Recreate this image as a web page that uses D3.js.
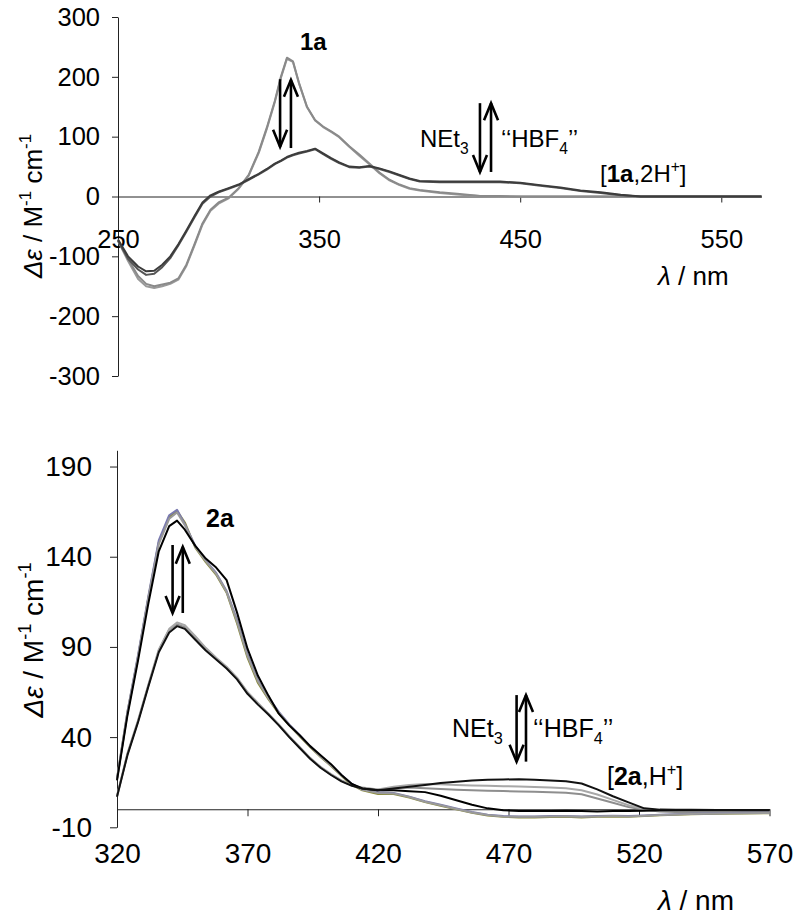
<!DOCTYPE html>
<html><head><meta charset="utf-8">
<script src="https://cdn.jsdelivr.net/npm/d3@7"></script>
<style>body{margin:0;background:#fff} text{font-family:"Liberation Sans",Arial,sans-serif;fill:#000}</style>
</head><body><svg id="c" width="800" height="920"></svg>
<script>
// ---------- Top panel data (1a / [1a,2H+]) ----------
const topWavelengths = [250,255,260,264,268,272,276,280,284,288,292,296,300,305,310,315,320,324,328,331,334,337,340,344,348,352,356,360,365,370,375,380,385,390,395,400,410,420,430,440,450,460,470,480,490,500,510,520,530,540,550,560,570];
const top1aA = [-72,-105,-133,-146,-150,-147,-144,-137,-114,-80,-45,-22,-10, -2,14,36,75, 115,160,200,232,226,190,150,128,117,109,100, 84,70,55,40,28,20,14,11, 7,4,1,1,0,0,0,0,0,0,0,0,0,0,0,0,0];
const top1aB = [-74,-108,-138,-150,-153,-150,-146,-139,-116,-82,-47,-24,-12, -3,13,35,73, 113,158,198,230,225,189,149,127,116,108,99, 83,68,54,39,27,19,13,10, 6,3,1,0,0,0,0,0,0,0,0,0,0,0,0,0,0];
const top1aH2A = [-72,-100,-117,-125,-124,-114,-100,-80,-57,-33,-10,2,8, 14,20,29,38, 46,55,60,66,70,73,76,80,72,64,57, 50,49,51,47,42,36,30,26, 25,25,25,25,23,19,15,10,7,3,0,0,0,0,0,0,0];
const top1aH2B = [-74,-104,-122,-131,-129,-118,-103,-82,-59,-35,-12,0,7, 13,19,28,37, 45,54,59,65,69,72,75,79,71,63,56, 49,48,50,46,41,35,29,25, 24,24,24,24,22,18,14,9,6,2,0,0,0,0,0,0,0];
const topYTicks = [-300,-200,-100,0,100,200,300];
const topXTicks = [250,350,450,550];

// ---------- Bottom panel data (2a / [2a,H+]) ----------
const bottomWavelengths = [320,324,328,332,336,340,343,346,350,354,358,362,366,370,374,378,382,386,390,394,398,402,406,410,414,420,426,432,438,444,450,456,462,468,474,480,486,492,498,504,510,516,522,528,534,540,550,560,570];
const bot2aOlive = [17,54,84,117,148,162, 165.5,159, 145,137,130,120,103,84,70,61,53,46.5,40.5,34.5,29,24,18.5,13.5,10.5, 8.5,8.5,6.5,4,2,0,-2,-3.5,-4.2,-4.5,-4.6,-4.3,-4.2,-4.5,-4.2,-4,-4.2,-3.8,-3.3,-3,-2.8, -2.5,-2.3,-2.2];
const bot2aBlue = [17,54,85,118,149,163, 166,158, 146,138,131,121,105,86,71.5,62,54,47,41,35,29.5,24.5,19,14,11, 9.5,9,7,4.5,2.5,0.5,-1.5,-3,-3.8,-4,-4,-3.8,-3.7,-4,-3.8,-3.6,-3.8,-3.4,-3,-2.7,-2.5, -2.2,-2,-2];
const bot2aGray = [16.5,53,84,117,147,161, 164.5,157.5, 145.5,137.5,130.5,120.5,104,85,71,61.5,53.5,46.8,40.8,34.8,29.2,24.2,18.8,13.8,10.8, 9,8.8,6.8,4.2,2.2,0.2,-1.8,-3.2,-4,-4.2,-4.2,-4,-3.9,-4.2,-4,-3.8,-4,-3.6,-3.2,-2.9,-2.6, -2.4,-2.2,-2.1];
const bot2aBlack = [16,52,82,114,143,157, 160,155, 146,139,134,127,109,89,74,63,53,46.5,41,35,30,25,19,14,11.5, 10.5,10.5,10,9.5,7.5,5,2.5,0.5,-0.5,-1,-1,-1,-0.8,-1,-1.2,-1,-1,-0.8,-0.5,-0.5,-0.5, -0.5,-0.5,-0.5];
const bot2aHGray1 = [7.5,31,49,69,88.5,100, 103.5,102, 96,89.5,84,79,73,65,59,53,47,40.5,34.5,28.5,23.5,19.5,16,13.5,12, 11,12.5,13.5,14,13.8,13.5,13.2,13,12.8,12.6,12.4,12.1,11.6,10.5,8.2,5.2,2.2,0.2,-0.6,-0.8,-1, -1,-1,-1];
const bot2aHGray2 = [7,30.5,48.5,68.5,88,99.5, 102.5,101, 95.5,89,83.5,78.5,72.5,64.5,58.5,52.8,46.8,40.2,34.2,28.2,23.2,19.2,15.8,13.3,11.8, 10.8,11.8,12,11.6,11.2,10.8,10.5,10.3,10.1,9.9,9.7,9.4,9.1,8.3,6,3.6,1.2,-0.3,-1.2,-1.5,-1.7, -1.8,-1.9,-2];
const bot2aHBlack = [7,30,48,68,87,98, 101.5,100, 94,88,83,78,72,64,58,52.5,46.5,40,34,28,23,19,15.5,13,11.5, 10.5,11.5,12.5,13.5,14.5,15.3,16,16.3,16.5,16.7,16.3,16,15.5,14.3,11,7.2,3.8,0.5,-0.2,-0.3,-0.3, -0.4,-0.4,-0.4];
const botYTicks = [-10,40,90,140,190];
const botXTicks = [320,370,420,470,520,570];

// annotation arrows in data units: [lambda, from, to]
const topArrows = [[330.6,196,83],[336,81,195],[430,156,41],[435.5,41,156]];
const botArrows = [[341.3,146.5,108.8],[345.2,108.8,145.5],[473.1,63.3,26.4],[476.7,26.4,63.3]];

const svg = d3.select("#c");

function richText(g, x, y, parts, size, anchor) {
  const t = g.append("text").attr("x", x).attr("y", y).attr("font-size", size);
  if (anchor) t.attr("text-anchor", anchor);
  let cur = 0;
  parts.forEach(p => {
    const target = p.sub ? size * 0.28 : p.sup ? -size * 0.42 : 0;
    const ts = t.append("tspan").text(p.t).attr("dy", target - cur);
    cur = target;
    if (p.sub || p.sup) ts.attr("font-size", size * 0.65);
    if (p.b) ts.attr("font-weight", "bold");
    if (p.i) ts.attr("font-style", "italic");
  });
  return t;
}

function drawArrows(g, arrows, x, y) {
  arrows.forEach(([l, a, b]) => {
    const px = x(l), y1 = y(a), y2 = y(b);
    const dir = y2 > y1 ? 1 : -1;
    g.append("line").attr("x1", px).attr("x2", px).attr("y1", y1).attr("y2", y2)
      .attr("stroke", "#000").attr("stroke-width", 2.6);
    g.append("path").attr("d", `M${px-7},${y2-dir*17}L${px},${y2}L${px+7},${y2-dir*17}`)
      .attr("fill", "none").attr("stroke", "#000").attr("stroke-width", 2.6);
  });
}

function styleAxis(sel, size) {
  sel.select(".domain").attr("stroke", "#222").attr("stroke-width", 1);
  sel.selectAll(".tick line").attr("stroke", "#222").attr("stroke-width", 1);
  sel.selectAll(".tick text").attr("font-size", size).attr("fill", "#000")
    .style("font-family", '"Liberation Sans",Arial,sans-serif');
  sel.attr("font-family", null).attr("font-size", null);
}

// ---------- TOP PANEL ----------
{
  const x = d3.scaleLinear().domain([250, 570]).range([118, 761.5]);
  const y = d3.scaleLinear().domain([-300, 300]).range([376, 17]);
  const g = svg.append("g");
  const yAx = g.append("g").attr("transform", `translate(118,0)`)
    .call(d3.axisLeft(y).tickValues(topYTicks).tickSize(6).tickSizeOuter(0).tickPadding(12).tickFormat(d => String(d)));
  styleAxis(yAx, 25.5);
  const xAx = g.append("g").attr("transform", `translate(0,${y(0)})`)
    .call(d3.axisBottom(x).tickValues(topXTicks).tickSize(6).tickSizeOuter(0).tickPadding(27).tickFormat(d => String(d)));
  styleAxis(xAx, 25.5);
  xAx.selectAll(".tick").filter(d => d === 250).select("line").remove();

  const line = d3.line().x((d, i) => x(topWavelengths[i])).y(d => y(d));
  const series = [
    [top1aB, "#9a9a9a"], [top1aA, "#8a8a8a"],
    [top1aH2B, "#555555"], [top1aH2A, "#3c3c3c"]
  ];
  series.forEach(([vals, col]) => {
    g.append("path").datum(vals).attr("d", line).attr("fill", "none")
      .attr("stroke", col).attr("stroke-width", 2).attr("stroke-linejoin", "round");
  });
  drawArrows(g, topArrows, x, y);

  richText(g, 300, 50, [{t: "1a", b: true}], 24);
  richText(g, 420, 147, [{t: "NEt"}, {t: "3", sub: true}], 24);
  richText(g, 501, 147, [{t: "‘‘HBF"}, {t: "4", sub: true}, {t: "’’"}], 24);
  richText(g, 600, 182, [{t: "["}, {t: "1a", b: true}, {t: ",2H"}, {t: "+", sup: true}, {t: "]"}], 24);
  richText(g, 658, 285, [{t: "λ", i: true}, {t: " / nm"}], 26);
  const yt = g.append("g").attr("transform", "translate(42,206) rotate(-90)");
  richText(yt, 0, 0, [{t: "Δε", i: true}, {t: " / M"}, {t: "-1", sup: true}, {t: " cm"}, {t: "-1", sup: true}], 26, "middle");
}

// ---------- BOTTOM PANEL ----------
{
  const x = d3.scaleLinear().domain([320, 570]).range([117, 769.5]);
  const y = d3.scaleLinear().domain([-10, 199]).range([827.3, 450.3]);
  const g = svg.append("g");
  const yAx = g.append("g").attr("transform", `translate(117,0)`)
    .call(d3.axisLeft(y).tickValues(botYTicks).tickSize(7).tickSizeOuter(0).tickPadding(18).tickFormat(d => String(d)));
  styleAxis(yAx, 28);
  const xAx = g.append("g").attr("transform", `translate(0,${y(0)})`)
    .call(d3.axisBottom(x).tickValues(botXTicks).tickSize(7).tickSizeOuter(0).tickPadding(27).tickFormat(d => String(d)));
  styleAxis(xAx, 28);
  xAx.selectAll(".tick").filter(d => d === 320).select("line").remove();

  const line = d3.line().x((d, i) => x(bottomWavelengths[i])).y(d => y(d));
  const series = [
    [bot2aHGray2, "#8e8e8e"], [bot2aHGray1, "#a8a8a8"],
    [bot2aOlive, "#8b8b3a"], [bot2aBlue, "#7a7ab0"], [bot2aGray, "#9a9a9a"],
    [bot2aBlack, "#000000"], [bot2aHBlack, "#111111"]
  ];
  series.forEach(([vals, col]) => {
    g.append("path").datum(vals).attr("d", line).attr("fill", "none")
      .attr("stroke", col).attr("stroke-width", 2).attr("stroke-linejoin", "round");
  });
  drawArrows(g, botArrows, x, y);

  richText(g, 206, 527, [{t: "2a", b: true}], 25);
  richText(g, 452, 737, [{t: "NEt"}, {t: "3", sub: true}], 25);
  richText(g, 533, 737, [{t: "‘‘HBF"}, {t: "4", sub: true}, {t: "’’"}], 25);
  richText(g, 607, 785, [{t: "["}, {t: "2a", b: true}, {t: ",H"}, {t: "+", sup: true}, {t: "]"}], 25);
  richText(g, 658, 910, [{t: "λ", i: true}, {t: " / nm"}], 28);
  const yt = g.append("g").attr("transform", "translate(43,640) rotate(-90)");
  richText(yt, 0, 0, [{t: "Δε", i: true}, {t: " / M"}, {t: "-1", sup: true}, {t: " cm"}, {t: "-1", sup: true}], 28, "middle");
}
</script></body></html>
